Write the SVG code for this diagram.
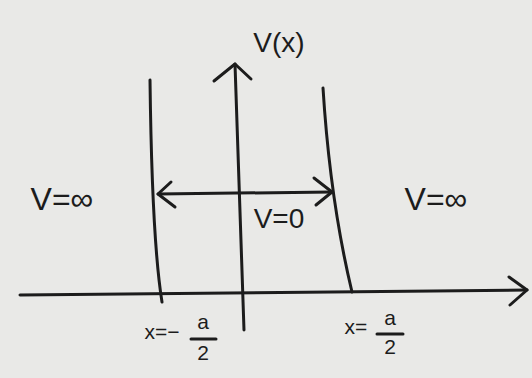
<svg xmlns="http://www.w3.org/2000/svg" width="532" height="378" viewBox="0 0 532 378">
<style>
.ln{fill:none;stroke:#1c1c1c;stroke-width:3;stroke-linecap:round;stroke-linejoin:round}
.t{font-family:"Liberation Sans","DejaVu Sans",sans-serif;fill:#1c1c1c}
.lg{font-size:32px}
.sm{font-size:21px}
</style>
<rect width="532" height="378" fill="#e9e9e7"/>
<g id="connectors">
<path class="ln" d="M20 295 L527 290"/>
<path class="ln" d="M509 277 L527 290 L510 305"/>
<path class="ln" d="M235 64 L244 330"/>
<path class="ln" d="M214 81 L235 64 L251 79"/>
<path class="ln" d="M158 194 L332 192"/>
<path class="ln" d="M171 182 L158 194 L175 207"/>
<path class="ln" d="M314 178 L332 192 L316 205"/>
</g>
<g id="wall-left"><path class="ln" d="M150 80 Q152 240 162 302"/></g>
<g id="wall-right"><path class="ln" d="M323 88 Q330 200 352 292"/></g>
<g id="axis-label"><text class="t" x="279" y="52" font-size="28" text-anchor="middle">V(x)</text></g>
<g id="region-left"><text class="t lg" x="62" y="210" text-anchor="middle">V=∞</text></g>
<g id="region-right"><text class="t lg" x="436" y="210" text-anchor="middle">V=∞</text></g>
<g id="region-well"><text class="t" x="279" y="228" font-size="28" text-anchor="middle">V=0</text></g>
<g id="label-left">
<text class="t sm" x="162" y="339" text-anchor="middle">x=−</text>
<text class="t sm" x="203" y="329" text-anchor="middle">a</text>
<path class="ln" d="M191 339 L216 339" stroke-width="2"/>
<text class="t sm" x="203" y="360" text-anchor="middle">2</text>
</g>
<g id="label-right">
<text class="t sm" x="356" y="334" text-anchor="middle">x=</text>
<text class="t sm" x="390" y="325" text-anchor="middle">a</text>
<path class="ln" d="M377 334 L403 334" stroke-width="2"/>
<text class="t sm" x="390" y="354" text-anchor="middle">2</text>
</g>
</svg>
